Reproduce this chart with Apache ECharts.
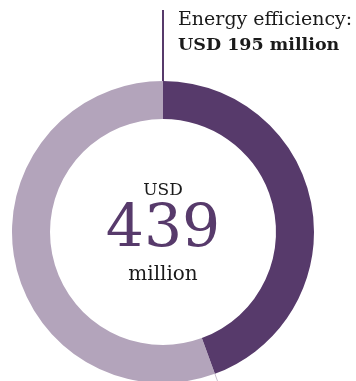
<!DOCTYPE html>
<html>
<head>
<meta charset="utf-8">
<script src="https://cdn.jsdelivr.net/npm/echarts@6/dist/echarts.min.js"></script>
<style>
html,body{margin:0;padding:0;background:#fff;}
#c{width:356px;height:381px;}
</style>
</head>
<body>
<div id="c"></div>
<script>
var categories = ['Energy efficiency', 'Other'];
var values = [195, 244];
var total = 439;
var colors = ['#573a6b', '#b3a4bb'];
var labelLine1 = 'Energy efficiency:';
var labelLine2 = 'USD 195 million';
var centerTop = 'USD';
var centerNum = '439';
var centerBottom = 'million';

var cx = 163, cy = 232, rIn = 113, rOut = 151;
var font = '"DejaVu Serif", serif';

var chart = echarts.init(document.getElementById('c'), null, {renderer: 'canvas'});
var sepAngle = (values[0] / total) * 2 * Math.PI; // clockwise from top
function pt(r, a) { return [cx + r * Math.sin(a), cy - r * Math.cos(a)]; }
var p1 = pt(rIn, sepAngle), p2 = pt(rOut + 8, sepAngle);

chart.setOption({
  animation: false,
  series: [{
    type: 'pie',
    center: [cx, cy],
    radius: [rIn, rOut],
    startAngle: 90,
    clockwise: true,
    label: {show: false},
    labelLine: {show: false},
    silent: true,
    itemStyle: {borderWidth: 0},
    data: categories.map(function (c, i) {
      return {name: c, value: values[i], itemStyle: {color: colors[i]}};
    })
  }],
  graphic: [
    {type: 'line', shape: {x1: cx, y1: 10, x2: cx, y2: cy - rOut + 1}, style: {stroke: colors[0], lineWidth: 2}},
    {type: 'line', shape: {x1: p1[0], y1: p1[1], x2: p2[0], y2: p2[1]}, style: {stroke: '#c9bfcd', lineWidth: 1}},
    {type: 'text', left: 178, top: 11, style: {text: labelLine1, font: '19px ' + font, fill: '#1a1a1a'}},
    {type: 'text', left: 178, top: 36, style: {text: labelLine2, font: 'bold 17.5px ' + font, fill: '#1a1a1a'}},
    {type: 'text', x: cx, y: 191, style: {text: centerTop, font: '17px ' + font, fill: '#1a1a1a', align: 'center', verticalAlign: 'middle'}},
    {type: 'text', x: cx, y: 231, style: {text: centerNum, font: '60px ' + font, fill: colors[0], align: 'center', verticalAlign: 'middle'}},
    {type: 'text', x: cx, y: 275, style: {text: centerBottom, font: '20px ' + font, fill: '#1a1a1a', align: 'center', verticalAlign: 'middle'}}
  ]
});
</script>
</body>
</html>
